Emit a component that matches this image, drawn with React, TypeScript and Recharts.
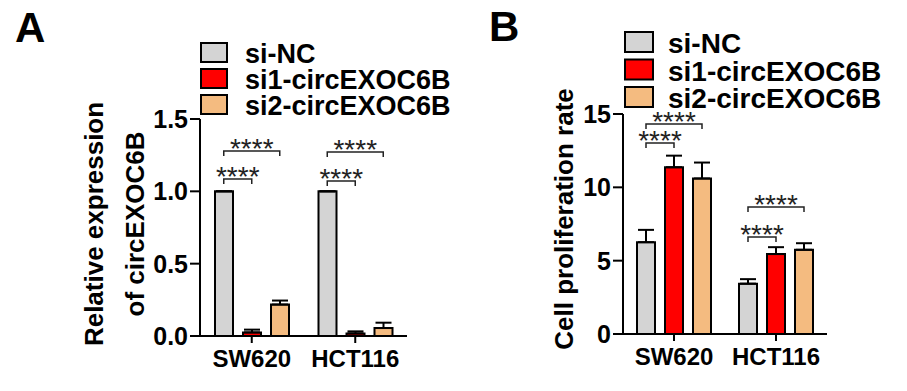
import React from 'react';
import { BarChart, Bar, XAxis, YAxis, ErrorBar, ReferenceLine, Legend } from 'recharts';

const FONT = '"Liberation Sans", Arial, Helvetica, sans-serif';

// ---- data ----
const categories = ['SW620', 'HCT116'];
const seriesNames = ['si-NC', 'si1-circEXOC6B', 'si2-circEXOC6B'];
const seriesColors = ['#d4d4d4', '#ff0000', '#f4bb80'];

// Panel A: relative expression of circEXOC6B
const exprSiNC = [1.0, 1.0];
const exprSi1 = [0.025, 0.018];
const exprSi2 = [0.217, 0.055];
const exprErrSiNC = [0, 0];
const exprErrSi1 = [0.019, 0.014];
const exprErrSi2 = [0.028, 0.037];
const exprTicks = [0, 0.5, 1.0, 1.5];

// Panel B: cell proliferation rate
const prolSiNC = [6.26, 3.43];
const prolSi1 = [11.37, 5.45];
const prolSi2 = [10.6, 5.74];
const prolErrSiNC = [0.84, 0.31];
const prolErrSi1 = [0.79, 0.47];
const prolErrSi2 = [1.09, 0.45];
const prolTicks = [0, 5, 10, 15];

// significance brackets: category, from series, to series, height (data units)
const exprBrackets = [
  { cat: 'SW620', from: 0, to: 1, y: 1.085, text: '****' },
  { cat: 'SW620', from: 0, to: 2, y: 1.279, text: '****' },
  { cat: 'HCT116', from: 0, to: 1, y: 1.071, text: '****' },
  { cat: 'HCT116', from: 0, to: 2, y: 1.272, text: '****' },
];
const prolBrackets = [
  { cat: 'SW620', from: 0, to: 1, y: 13.02, text: '****' },
  { cat: 'SW620', from: 0, to: 2, y: 14.31, text: '****' },
  { cat: 'HCT116', from: 0, to: 1, y: 6.61, text: '****' },
  { cat: 'HCT116', from: 0, to: 2, y: 8.66, text: '****' },
];

const buildRows = (v: number[][], e: number[][]) =>
  categories.map((c, i) => ({
    name: c,
    s0: v[0][i], s1: v[1][i], s2: v[2][i],
    e0: [0, e[0][i]], e1: [0, e[1][i]], e2: [0, e[2][i]],
  }));

const exprRows = buildRows([exprSiNC, exprSi1, exprSi2], [exprErrSiNC, exprErrSi1, exprErrSi2]);
const prolRows = buildRows([prolSiNC, prolSi1, prolSi2], [prolErrSiNC, prolErrSi1, prolErrSi2]);

const BAR = 18;
const GAP = 10;
const LEG = 5;

type PanelProps = {
  left: number;
  width: number;
  height: number;
  marginRight: number;
  marginTop: number;
  yAxisWidth: number;
  xAxisHeight: number;
  domain: [number, number];
  ticks: number[];
  fmt: (v: number) => string;
  rows: any[];
  brackets: any[];
  legend: { left: number; top: number; sq: number; sqh: number; pitch: number; textX: number; font: number };
  yLabelLines: string[];
  yLabelX: number[];
  yLabelCy: number;
};

function Panel(p: PanelProps) {
  const legendContent = (props: any) => {
    const payload = props.payload || [];
    return (
      <svg width={300} height={3 * p.legend.pitch + 10} style={{ overflow: 'visible', display: 'block' }}>
        {payload.map((it: any, i: number) => (
          <g key={i}>
            <rect x={1} y={1 + i * p.legend.pitch} width={p.legend.sq} height={p.legend.sqh}
              fill={it.color} stroke="#000" strokeWidth={2} />
            <text x={p.legend.textX} y={p.legend.sqh + 2 + i * p.legend.pitch} fontFamily={FONT}
              fontWeight="bold" fontSize={p.legend.font} fill="#000">{it.value}</text>
          </g>
        ))}
      </svg>
    );
  };

  const yLabel = () => (
    <g>
      {p.yLabelLines.map((t, i) => (
        <text key={i} x={p.yLabelX[i]} y={p.yLabelCy} transform={`rotate(-90 ${p.yLabelX[i]} ${p.yLabelCy})`}
          textAnchor="middle" fontFamily={FONT} fontWeight="bold" fontSize={26} fill="#000">{t}</text>
      ))}
    </g>
  );

  const bracketShape = (b: any) => (sp: any) => {
    const cx = sp.x1;
    const xa = cx + (b.from - 1) * (BAR + GAP);
    const xb = cx + (b.to - 1) * (BAR + GAP);
    const y = sp.y1;
    return (
      <g>
        <path d={`M${xa},${y + LEG}V${y}H${xb}V${y + LEG}`} stroke="#222" strokeWidth={1.5} fill="none" />
        <text x={(xa + xb) / 2} y={y + 7} textAnchor="middle" fontFamily={FONT} fontSize={28} fill="#222">
          {b.text}
        </text>
      </g>
    );
  };

  return (
    <div style={{ position: 'absolute', left: p.left, top: 0 }}>
      <BarChart width={p.width} height={p.height} data={p.rows}
        margin={{ top: p.marginTop, right: p.marginRight, left: 0, bottom: 0 }}
        barSize={BAR} barGap={GAP}>
        <XAxis dataKey="name" height={p.xAxisHeight} axisLine={{ stroke: '#000', strokeWidth: 2 }}
          tickLine={{ stroke: '#000', strokeWidth: 2 }} tickSize={7} tickMargin={7}
          tick={{ fontFamily: FONT, fontWeight: 'bold', fontSize: 24, fill: '#000' }} />
        <YAxis type="number" domain={p.domain} ticks={p.ticks} width={p.yAxisWidth} tickFormatter={p.fmt}
          axisLine={{ stroke: '#000', strokeWidth: 2 }} tickLine={{ stroke: '#000', strokeWidth: 2 }}
          tickSize={10} tickMargin={2} interval={0}
          tick={{ fontFamily: FONT, fontWeight: 'bold', fontSize: 25, fill: '#000' }}
          label={yLabel} />
        <Legend layout="vertical" align="center" verticalAlign="middle"
          wrapperStyle={{ left: p.legend.left, top: p.legend.top, width: 300, height: 90 }}
          content={legendContent} />
        {[0, 1, 2].map((s) => (
          <Bar key={s} dataKey={`s${s}`} name={seriesNames[s]} fill={seriesColors[s]} stroke="#000"
            strokeWidth={2} isAnimationActive={false}>
            <ErrorBar dataKey={`e${s}`} width={8} stroke="#000" strokeWidth={2} direction="y"
              isAnimationActive={false} />
          </Bar>
        ))}
        {p.brackets.map((b, i) => (
          <ReferenceLine key={`b${i}`} ifOverflow="visible"
            segment={[{ x: b.cat, y: b.y }, { x: b.cat, y: b.y }]}
            shape={bracketShape(b)} />
        ))}
      </BarChart>
    </div>
  );
}

export default function App() {
  return (
    <div style={{ position: 'absolute', left: 0, top: 0, width: 907, height: 391, background: '#fff' }}>
      <Panel left={0} width={450} height={391} marginRight={43} marginTop={119} yAxisWidth={200}
        xAxisHeight={55} domain={[0, 1.5]} ticks={exprTicks} fmt={(v) => v.toFixed(1)} rows={exprRows}
        brackets={exprBrackets}
        legend={{ left: 200, top: 42, sq: 26, sqh: 19, pitch: 26, textX: 45, font: 27 }}
        yLabelLines={['Relative expression', 'of circEXOC6B']} yLabelX={[103, 144]} yLabelCy={224} />
      <Panel left={450} width={457} height={391} marginRight={80} marginTop={114} yAxisWidth={173}
        xAxisHeight={57} domain={[0, 15]} ticks={prolTicks} fmt={(v) => String(v)} rows={prolRows}
        brackets={prolBrackets}
        legend={{ left: 174, top: 31, sq: 28, sqh: 20, pitch: 27.5, textX: 44, font: 28 }}
        yLabelLines={['Cell proliferation rate']} yLabelX={[123]} yLabelCy={219} />
      <svg width={907} height={391} style={{ position: 'absolute', left: 0, top: 0, pointerEvents: 'none' }}>
        <text x={15} y={42} fontFamily={FONT} fontWeight="bold" fontSize={42} fill="#000">A</text>
        <text x={489} y={41} fontFamily={FONT} fontWeight="bold" fontSize={42} fill="#000">B</text>
      </svg>
    </div>
  );
}
